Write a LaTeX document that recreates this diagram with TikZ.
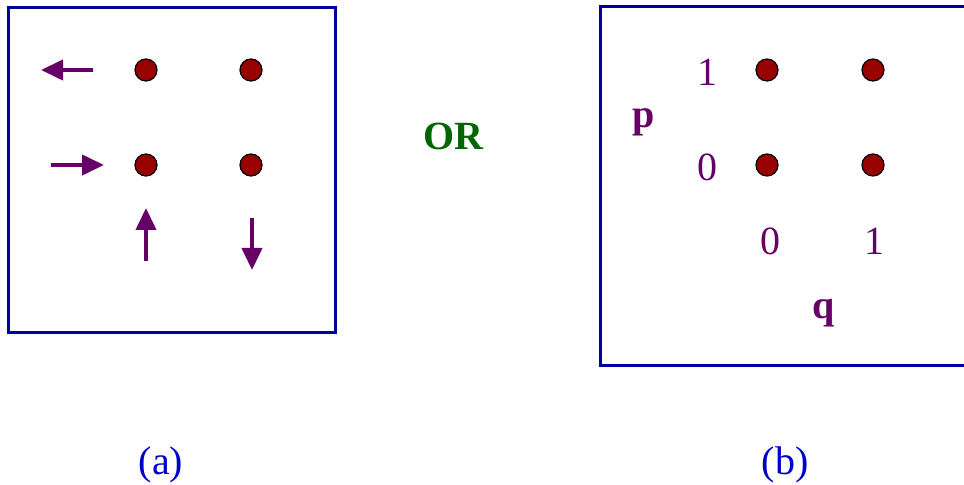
\documentclass[tikz,border=0pt]{standalone}
\usepackage{fontspec}
\setmainfont{Liberation Serif}
\usetikzlibrary{arrows.meta}
\definecolor{boxblue}{RGB}{0,0,160}
\definecolor{dotred}{RGB}{153,0,0}
\definecolor{plum}{RGB}{102,0,102}
\definecolor{orgreen}{RGB}{0,102,0}
\definecolor{capblue}{RGB}{0,0,204}

\begin{document}
\begin{tikzpicture}[
        x=0.5pt, y=-0.5pt,
        dot/.style = {circle, draw=black, fill=dotred, line width=0.6pt, minimum size=11pt, node contents={}, inner sep=0pt},
        frame/.style = {draw=boxblue, line width=1.5pt},
        flow/.style = {plum, line width=2pt, -{Triangle[length=11pt, width=10pt]}},
        num/.style = {plum, anchor=base, font=\fontsize{20}{20}\selectfont},
        var/.style = {plum, anchor=base, font=\fontsize{20}{20}\selectfont\bfseries},
        >=latex
        ]
        \useasboundingbox (0,0) rectangle (964,485);

        % (a)
        \draw[frame] (8,8) rectangle (335,333);
        \node (a1) at (146,70)  [dot];
        \node (a2) at (251,70)  [dot];
        \node (a3) at (146,165) [dot];
        \node (a4) at (251,165) [dot];

        \coordinate (l0) at (93,70);    \coordinate (l1) at (41,70);
        \coordinate (r0) at (51,165);   \coordinate (r1) at (104,165);
        \coordinate (u0) at (146,261);  \coordinate (u1) at (146,208);
        \coordinate (d0) at (252,218);  \coordinate (d1) at (252,270);
        \draw[flow] (l0) -- (l1);
        \draw[flow] (r0) -- (r1);
        \draw[flow] (u0) -- (u1);
        \draw[flow] (d0) -- (d1);

        \node (or) at (453,136) [orgreen, font=\fontsize{20}{20}\selectfont\bfseries] {OR};

        % (b)
        \draw[frame] (600,7) rectangle (980,366);
        \node (b1) at (767,70)  [dot];
        \node (b2) at (873,70)  [dot];
        \node (b3) at (767,165) [dot];
        \node (b4) at (873,165) [dot];

        \node (p1) at (707,86)  [num] {1};
        \node (p0) at (707,181) [num] {0};
        \node (p)  at (644,128) [var] {p};
        \node (q0) at (770,255) [num] {0};
        \node (q1) at (874,255) [num] {1};
        \node (q)  at (824,319) [var] {q};

        \node (capa) at (161,475) [capblue, anchor=base, font=\fontsize{20}{20}\selectfont] {(a)};
        \node (capb) at (785,475) [capblue, anchor=base, font=\fontsize{20}{20}\selectfont] {(b)};
    \end{tikzpicture}
\end{document}
